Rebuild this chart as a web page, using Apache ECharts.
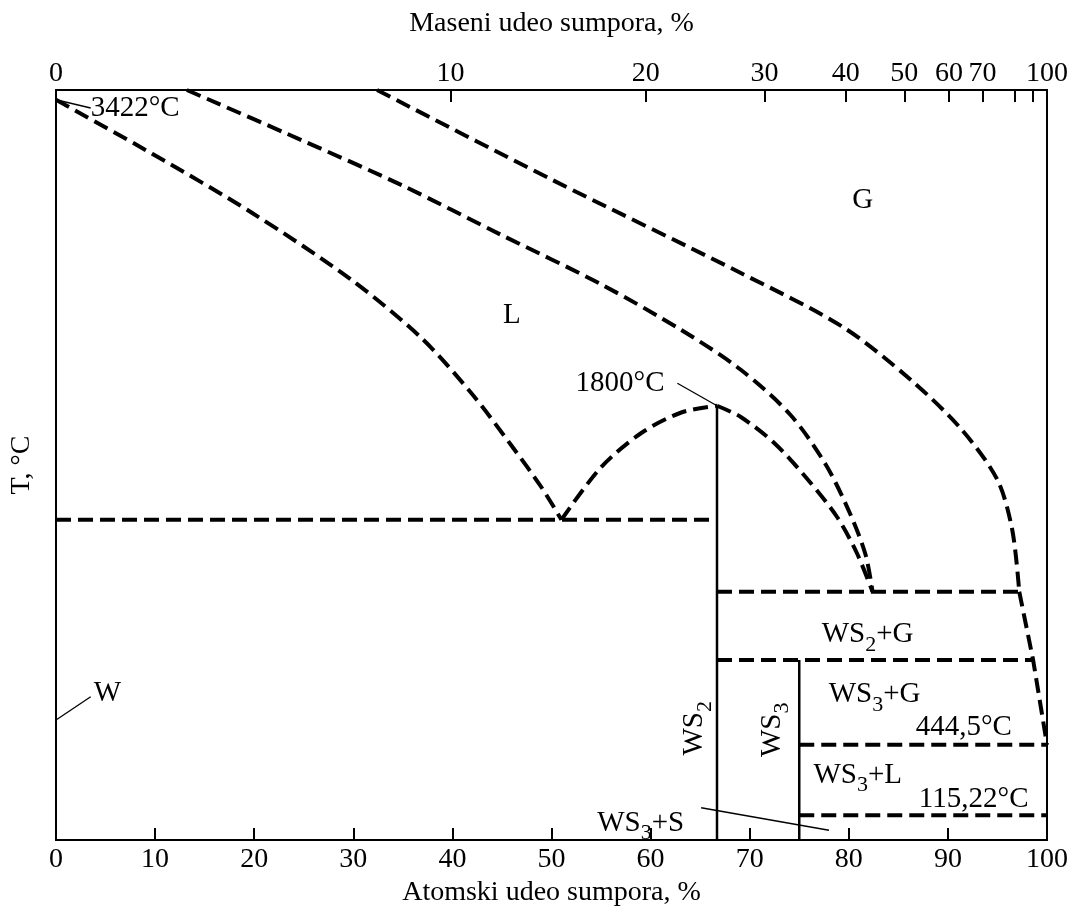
<!DOCTYPE html>
<html>
<head>
<meta charset="utf-8">
<title>W-S</title>
<script src="https://cdn.jsdelivr.net/npm/echarts@6/dist/echarts.min.js"></script>
<style>
  html, body { margin: 0; padding: 0; background: #fff; }
  #main { width: 1077px; height: 919px; }
</style>
</head>
<body>
<div id="main"></div>
<script>
// x = atomski udeo sumpora (%), y = relativna visina 0-100 (dijagram je shematski, T bez skale)
const liquidusW = [[0, 98.7], [9.7, 91.5], [19.8, 83.6], [29.8, 74.7], [36.9, 66.9], [41.9, 59.6], [45.9, 52.7], [49.0, 47.0], [51.0, 42.7]]
const liquidusWS2Left = [[51.0, 42.7], [55.0, 49.7], [59.1, 54.3], [63.1, 57.0], [66.7, 57.9]]
const liquidusWS2Right = [[66.7, 57.9], [69.1, 56.4], [72.5, 52.9], [75.9, 48.0], [78.8, 43.1], [80.8, 38.3], [82.4, 33.1]]
const midCurve = [[13.2, 100], [24.8, 93.3], [34.9, 87.3], [44.9, 80.7], [55.0, 74.1], [63.1, 68.0], [69.1, 62.7], [74.1, 56.7], [77.7, 50.0], [80.2, 43.3], [81.7, 38.0], [82.4, 33.1]]
const gasCurveUpper = [[32.4, 100], [50.1, 88.0], [69.1, 75.6], [79.4, 68.4], [86.3, 61.3], [91.4, 54.7], [95.0, 48.0], [96.5, 41.3], [97.2, 33.1]]
const gasCurveLower = [[97.2, 33.1], [98.6, 24.0], [100, 12.7]]

// izoterme: [x od, x do, y]
const isotherms = [[0, 66.7, 42.7], [66.7, 97.2, 33.1], [66.7, 98.6, 24.0], [75, 100, 12.7], [75, 100, 3.3]]
// jedinjenja WS2 i WS3: [x, y gore]
const compounds = [[66.7, 57.9], [75, 24.0]]
// pokazne linije
const leaders = [
  [[0, 98.7], [3.5, 97.6]],
  [[62.7, 60.9], [66.7, 57.9]],
  [[0, 16.0], [3.5, 19.1]],
  [[65.1, 4.3], [78.0, 1.3]]
]

const massTickAt = [0, 39.8, 59.5, 71.5, 79.7, 85.6, 90.1, 93.5, 96.7, 98.6, 100]
const massTickText = ['0', '10', '20', '30', '40', '50', '60', '70', '', '', '100']

const labels = [
  { text: 'L', pos: [46.0, 70.0] },
  { text: 'G', pos: [81.4, 85.3] },
  { text: '3422°C', pos: [3.5, 97.6], align: 'left' },
  { text: '1800°C', pos: [61.4, 60.9], align: 'right' },
  { text: 'W', pos: [3.8, 19.5], align: 'left' },
  { text: '{b|WS}{s|2}{b|+G}', pos: [81.9, 26.9] },
  { text: '{b|WS}{s|3}{b|+G}', pos: [82.6, 18.9] },
  { text: '444,5°C', pos: [91.6, 15.0] },
  { text: '{b|WS}{s|3}{b|+L}', pos: [80.9, 8.2] },
  { text: '115,22°C', pos: [92.6, 5.4] },
  { text: '{b|WS}{s|3}{b|+S}', pos: [59.0, 1.8] },
  { text: '{b|WS}{s|2}', pos: [64.8, 14.9], rotate: 90 },
  { text: '{b|WS}{s|3}', pos: [72.6, 14.7], rotate: 90 }
]

const font = 'Liberation Serif'
const black = '#000'

function dashed(data, smooth) {
  return {
    type: 'line', data: data, symbol: 'none', smooth: smooth ? 0.3 : false,
    lineStyle: { color: black, width: 4, type: [15, 7] }, silent: true, z: 3
  }
}
function solid(data, width) {
  return {
    type: 'line', data: data, symbol: 'none',
    lineStyle: { color: black, width: width }, silent: true, z: 3
  }
}

const series = [
  dashed(liquidusW, true),
  dashed(liquidusWS2Left, true),
  dashed(liquidusWS2Right, true),
  dashed(midCurve, true),
  dashed(gasCurveUpper, true),
  dashed(gasCurveLower, false)
]
isotherms.forEach(function (t) {
  series.push(dashed([[t[0], t[2]], [t[1], t[2]]], false))
})
compounds.forEach(function (c) {
  series.push(solid([[c[0], 0], [c[0], c[1]]], 2.5))
})
leaders.forEach(function (l) {
  series.push(solid(l, 1.3))
})
series.push({
  type: 'scatter', symbolSize: 1, silent: true, z: 5,
  itemStyle: { color: 'rgba(0,0,0,0)', opacity: 1 },
  label: {
    show: true, position: 'inside', color: black, opacity: 1, fontFamily: font, fontSize: 29,
    formatter: function (p) { return p.name },
    rich: {
      b: { fontFamily: font, fontSize: 29, color: black, lineHeight: 30, verticalAlign: 'top' },
      s: { fontFamily: font, fontSize: 22, color: black, lineHeight: 36, verticalAlign: 'bottom' }
    }
  },
  data: labels.map(function (l) {
    return {
      name: l.text, value: l.pos,
      label: { align: l.align || 'center', rotate: l.rotate || 0 }
    }
  })
})

const chart = echarts.init(document.getElementById('main'))
chart.setOption({
  animation: false,
  backgroundColor: '#fff',
  grid: { left: 54, right: 30, top: 90, bottom: 79, show: true, borderColor: black, borderWidth: 2 },
  xAxis: [
    {
      type: 'value', min: 0, max: 100, interval: 10, position: 'bottom',
      name: 'Atomski udeo sumpora, %', nameLocation: 'middle', nameGap: 39,
      nameTextStyle: { fontFamily: font, fontSize: 28, color: black },
      axisLine: { show: true, lineStyle: { color: black, width: 2 } },
      axisTick: { inside: true, length: 12, lineStyle: { color: black, width: 2 } },
      axisLabel: { fontFamily: font, fontSize: 28, color: black, margin: 6 },
      splitLine: { show: false }
    },
    {
      type: 'value', min: 0, max: 100, position: 'top',
      name: 'Maseni udeo sumpora, %', nameLocation: 'middle', nameGap: 52,
      nameTextStyle: { fontFamily: font, fontSize: 28, color: black },
      axisLine: { show: true, lineStyle: { color: black, width: 2 } },
      axisTick: { inside: true, length: 12, customValues: massTickAt, lineStyle: { color: black, width: 2 } },
      axisLabel: {
        fontFamily: font, fontSize: 28, color: black, margin: 2,
        customValues: massTickAt.filter(function (v, i) { return massTickText[i] !== '' }),
        formatter: function (v) {
          let best = 0
          massTickAt.forEach(function (m, i) { if (Math.abs(m - v) < Math.abs(massTickAt[best] - v)) best = i })
          return massTickText[best]
        }
      },
      splitLine: { show: false }
    }
  ],
  yAxis: {
    type: 'value', min: 0, max: 100,
    name: 'T, °C', nameLocation: 'middle', nameGap: 20, nameRotate: 90,
    nameTextStyle: { fontFamily: font, fontSize: 28, color: black },
    axisLine: { show: true, lineStyle: { color: black, width: 2 } },
    axisTick: { show: false },
    axisLabel: { show: false },
    splitLine: { show: false }
  },
  series: series
})
</script>
</body>
</html>
